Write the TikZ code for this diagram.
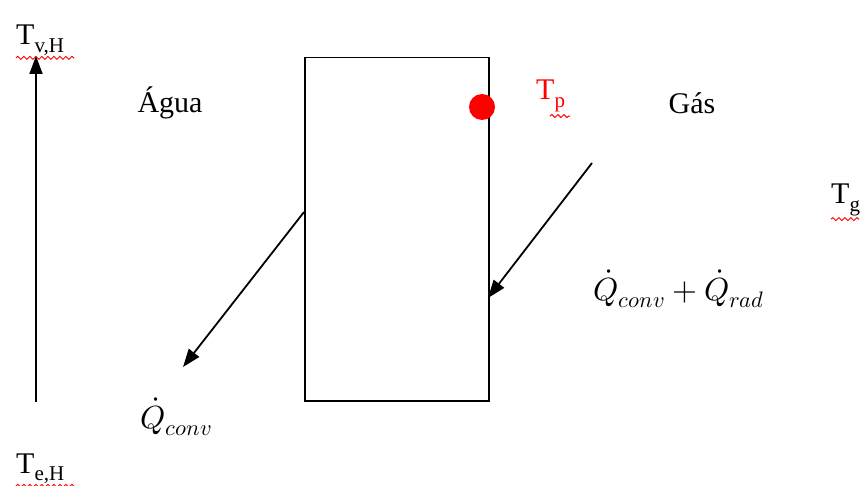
\documentclass[tikz,border=0pt]{standalone}
\usepackage{fontspec}
\usepackage{unicode-math}
\setmainfont{Liberation Serif}
\setmathfont{Latin Modern Math}
\usetikzlibrary{arrows.meta,decorations.pathmorphing}
\begin{document}
\begin{tikzpicture}[x=1pt,y=-1pt,
  lbl/.style={inner sep=0pt,font=\fontsize{30}{34}\selectfont},
  mth/.style={inner sep=0pt,font=\fontsize{32}{36}\selectfont},
  arr/.style={line width=1.8pt,-{Triangle[length=18pt,width=13pt]}},
  wavy/.style={red,line width=1pt,decorate,decoration={snake,amplitude=1.5pt,segment length=6pt}}]
\useasboundingbox (0,0) rectangle (866,486);
% wall
\node[draw,line width=1.5pt,minimum width=184pt,minimum height=343pt,inner sep=0pt,anchor=north west] (wall) at (304,57) {};
% red dot
\node[circle,fill=red,minimum size=26pt,inner sep=0pt] (dot) at (482,107) {};
% labels
\node[lbl] (agua) at (170,103) {Água};
\node[lbl] (gas) at (692,103) {Gás};
\node[lbl,red,anchor=base west] (tp) at (536,100) {T\textsubscript{p}};
\node[lbl,anchor=base west] (tg) at (831,204) {T\textsubscript{g}};
\node[lbl,anchor=base west] (tvh) at (16,45) {T\textsubscript{v,H}};
\node[lbl,anchor=base west] (teh) at (16,473) {T\textsubscript{e,H}};
\node[mth,anchor=base west] (qcr) at (593,300) {$\dot{Q}_{conv}+\dot{Q}_{rad}$};
\node[mth,anchor=base west] (qc) at (140,428) {$\dot{Q}_{conv}$};
% wavy underlines
\draw[wavy] (tvh.south west) ++(0,2) coordinate (w1) -- ++(58,0);
\draw[wavy] (teh.south west) ++(0,2) coordinate (w2) -- ++(58,0);
\draw[wavy] (tp.south west) ++(14,4) coordinate (w3) -- ++(20,0);
\draw[wavy] (tg.south west) ++(0,3) coordinate (w4) -- ++(28,0);
% arrows
\coordinate (vb) at (36,402);
\coordinate (vt) at (36,56);
\draw[arr] (vb) -- (vt);
\coordinate (gs) at (592,163);
\coordinate (ge) at (488,298);
\draw[arr] (gs) -- (ge);
\coordinate (ws) at (304,212);
\coordinate (we) at (183,367);
\draw[arr] (ws) -- (we);
\end{tikzpicture}
\end{document}
